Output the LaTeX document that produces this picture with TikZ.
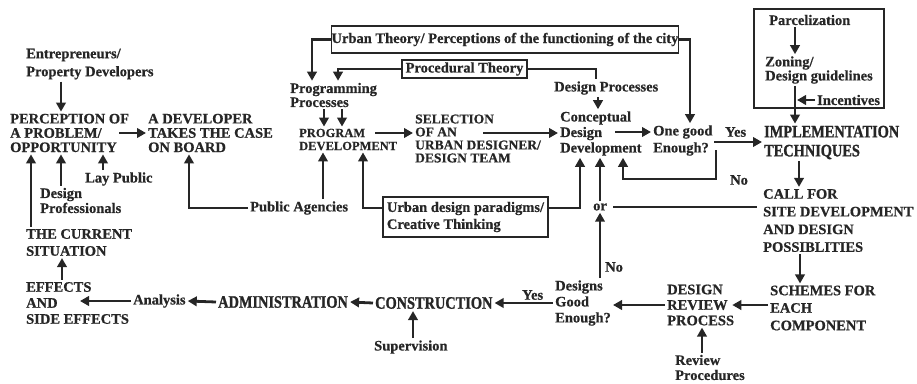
\documentclass[tikz,border=0pt]{standalone}
\usepackage{fontspec}
\setmainfont{Liberation Serif}[BoldFeatures={FakeBold=0.6}]
\newfontfamily\condfont{Liberation Serif}[FakeStretch=0.82, BoldFeatures={FakeBold=1.2}]
\usetikzlibrary{arrows.meta}
\definecolor{ink}{HTML}{262626}
\begin{document}
\begin{tikzpicture}[x=1pt,y=-1pt,
  txt/.style={font=\bfseries\fontsize{14.5}{#1}\selectfont, align=left, anchor=west, inner sep=2pt, text=ink},
  txt/.default=15,
  big/.style={font=\condfont\bfseries\fontsize{17.5}{#1}\selectfont},
  big/.default=19,
  arr/.style={draw=ink, line width=2.8pt, -{Triangle[length=9pt,width=9.5pt]}},
  ln/.style={draw=ink, line width=2.5pt},
  frame/.style={draw=ink, line width=1.7pt, inner sep=0pt, text=ink, align=center,
    font=\bfseries\fontsize{14.5}{17}\selectfont}]
\useasboundingbox (0,0) rectangle (917,383);

% ---- left column ----
\node[txt=18] (entre) at (24,64) {Entrepreneurs/\\Property Developers};
\node[txt=14.3] (perc) at (8,133) {PERCEPTION OF\\A PROBLEM/\\OPPORTUNITY};
\node[txt=14.3] (dev) at (146,133) {A DEVELOPER\\TAKES THE CASE\\ON BOARD};
\node[txt] (lay) at (83,179) {Lay Public};
\node[txt=15] (dpro) at (38,200.5) {Design\\Professionals};
\node[txt] (pub) at (248,208) {Public Agencies};
\node[txt=17] (cur) at (24,242.5) {THE CURRENT\\SITUATION};
\node[txt=16] (eff) at (24,303) {EFFECTS\\AND\\SIDE EFFECTS};
\node[txt] (ana) at (131,301) {Analysis};
\node[txt, big] (adm) at (216,302) {ADMINISTRATION};
\node[txt, big] (con) at (373,303) {CONSTRUCTION};
\node[txt] (sup) at (372,347) {Supervision};

% ---- middle ----
\node[frame, minimum width=344pt, minimum height=27pt] (uth) at (505,39.5) {Urban Theory/ Perceptions of the functioning of the city};
\node[frame, minimum width=125pt, minimum height=18pt] (pth) at (464.5,69) {Procedural Theory};
\node[txt=14] (pproc) at (288,95) {Programming\\Processes};
\node[txt, font=\bfseries\fontsize{12.5}{13}\selectfont] (pdev) at (297,139.5) {PROGRAM\\DEVELOPMENT};
\node[txt, font=\bfseries\fontsize{13.5}{13}\selectfont] (sel) at (413,138.5) {SELECTION\\OF AN\\URBAN DESIGNER/\\DESIGN TEAM};
\node[frame, minimum width=165pt, minimum height=40pt, align=left] (par) at (465.5,217) {Urban design paradigms/\\Creative Thinking};
\node[txt] (dproc) at (552,88) {Design Processes};
\node[txt=15.5] (cdd) at (558,133.5) {Conceptual\\Design\\Development};
\node[txt=17] (og) at (651,140.5) {One good\\Enough?};
\node[txt] (yes1) at (723,132) {Yes};
\node[txt] (no1) at (728,180) {No};
\node[txt, anchor=center] (or) at (600,207) {or};
\node[txt] (no2) at (603,267) {No};
\node[txt=16] (dge) at (553,303) {Designs\\Good\\Enough?};
\node[txt] (yes2) at (520,295) {Yes};

% ---- right column ----
\node[draw=ink, line width=1.7pt, minimum width=130pt, minimum height=99pt, inner sep=0pt] (pbox) at (819,58.5) {};
\node[txt] (parc) at (767,20) {Parcelization};
\node[txt=14] (zon) at (763,70) {Zoning/\\Design guidelines};
\node[txt] (inc) at (815,100) {Incentives};
\node[txt, big=19] (impl) at (762,142.5) {IMPLEMENTATION\\TECHNIQUES};
\node[txt=17.7] (call) at (761,220.5) {CALL FOR\\SITE DEVELOPMENT\\AND DESIGN\\POSSIBLITIES};
\node[txt=17.5] (sch) at (768,308) {SCHEMES FOR\\EACH\\COMPONENT};
\node[txt=15.5] (rev) at (665,305) {DESIGN\\REVIEW\\PROCESS};
\node[txt=15] (rproc) at (673,367.5) {Review\\Procedures};

% ---- connectors ----
\draw[arr] (61,0 |- entre.south) -- (61,0 |- perc.north);
\draw[arr] (119,0 |- dev.west) -- (dev.west);
\draw[arr] (31,0 |- cur.north) -- (31,0 |- perc.south);
\draw[arr] (61,0 |- dpro.north) -- (61,0 |- perc.south);
\draw[arr] (103,0 |- lay.north) -- (103,0 |- perc.south);
\draw[arr] (pub.west) -| (189,0 |- dev.south);
\draw[arr] (323,0 |- pub.north) -- (323,0 |- pdev.south);
\draw[arr] ([yshift=9pt]par.west) -| (363,0 |- pdev.south);
\draw[arr] ([yshift=9pt]par.east) -| (580,0 |- cdd.south);
\draw[arr] (uth.west) -| (312,0 |- pproc.north);
\draw[arr] (uth.east) -| (690,0 |- og.north);
\draw[arr] (pth.west) -| (338,0 |- pproc.north);
\draw[ln] (pth.east) -| (596,0 |- dproc.north);
\draw[arr] (324,0 |- pproc.south) -- (324,0 |- pdev.north);
\draw[arr] (342,0 |- pproc.south) -- (342,0 |- pdev.north);
\draw[arr] (375,133) -- (sel.west |- 0,133);
\draw[arr] (483,133) -- (cdd.west |- 0,133);
\draw[arr] (598,0 |- dproc.south) -- (598,0 |- cdd.north);
\draw[arr] (615,132) -- (og.west |- 0,132);
\draw[arr] (714,142) -- (impl.west |- 0,142);
\draw[arr] (716,150) |- (623,179) -- (623,0 |- cdd.south);
\draw[arr] (or.north) -- (or.north |- cdd.south);
\draw[arr] (or.south |- dge.north) -- (or.south);
\draw[ln, shorten <=4pt, shorten >=4pt] (or.east) -- (or.east -| call.west);
\draw[arr] (795,0 |- parc.south) -- (795,0 |- zon.north);
\draw[arr] (795,0 |- zon.south) -- (795,0 |- impl.north);
\draw[arr] (inc.west) -- (797,0 |- inc.west);
\draw[arr] (799,0 |- impl.south) -- (799,0 |- call.north);
\draw[arr] (800,0 |- call.south) -- (800,0 |- sch.north);
\draw[arr] (sch.west |- 0,305) -- ([xshift=-4pt]rev.east |- 0,305);
\draw[arr] (rev.west |- 0,305) -- (dge.east |- 0,305);
\draw[arr] (702,0 |- rproc.north) -- (702,0 |- rev.south);
\draw[arr] (dge.west |- 0,303) -- (con.east);
\draw[arr] (con.west) -- (adm.east);
\draw[arr] (413,0 |- sup.north) -- (413,0 |- con.south);
\draw[arr] (adm.west) -- (ana.east);
\draw[arr] (ana.west) -- (80,0 |- ana.west);
\draw[arr] (62,0 |- eff.north) -- (62,0 |- cur.south);
\end{tikzpicture}
\end{document}
